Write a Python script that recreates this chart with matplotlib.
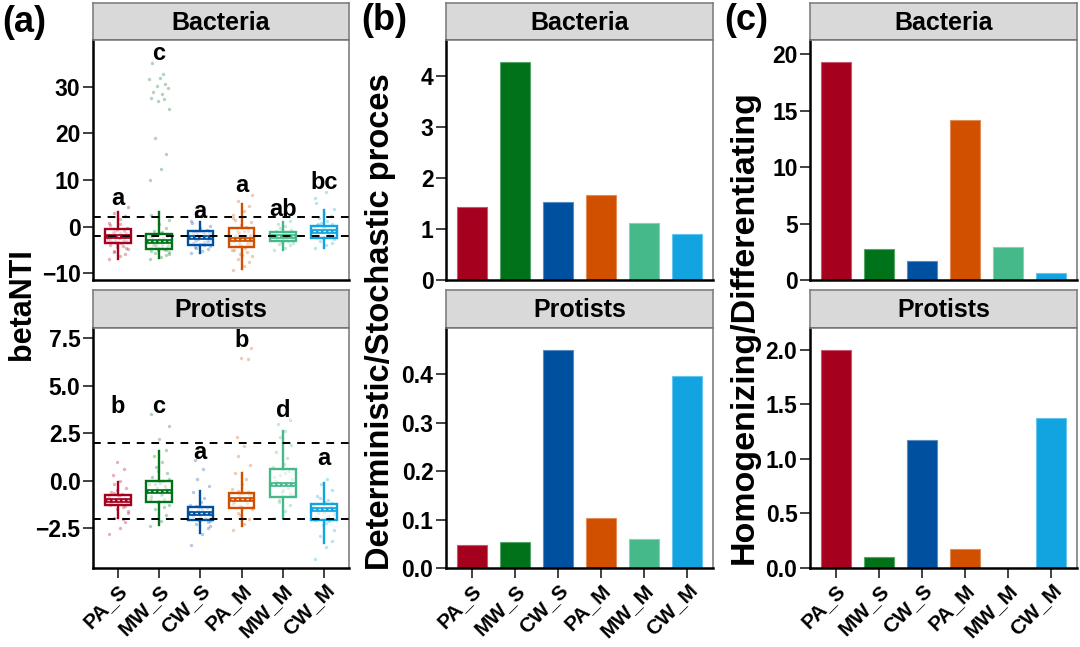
import matplotlib
matplotlib.use("Agg")
import matplotlib.pyplot as plt
import matplotlib.colors as mcolors
import numpy as np

plt.rcParams['font.family'] = ['Liberation Sans', 'DejaVu Sans']
plt.rcParams['font.weight'] = 'bold'

W, H = 1080, 647

groups = ["PA_S", "MW_S", "CW_S", "PA_M", "MW_M", "CW_M"]
colors = ["#A6001F", "#00731A", "#0050A0", "#D05000", "#45B98A", "#12A4E0"]

# ---- panel (a): betaNTI box statistics ----
bac_whislo = [-7.0, -6.7, -5.6, -9.1, -5.0, -4.5]
bac_q1 = [-3.4, -4.7, -3.8, -4.3, -3.1, -2.5]
bac_med = [-2.0, -3.15, -2.1, -2.7, -2.0, -0.92]
bac_q3 = [-0.57, -1.5, -0.85, -0.2, -1.07, 0.15]
bac_whishi = [3.2, 3.2, 1.1, 4.8, 1.07, 3.6]

pro_whislo = [-1.95, -2.35, -2.77, -2.38, -1.95, -3.26]
pro_q1 = [-1.3, -1.14, -2.07, -1.42, -0.86, -2.07]
pro_med = [-1.02, -0.54, -1.72, -0.98, -0.19, -1.51]
pro_q3 = [-0.77, 0.0, -1.4, -0.65, 0.63, -1.24]
pro_whishi = [-0.08, 1.58, -0.54, 0.39, 2.62, -0.1]

bac_points = [
    [-7.0, -6.3, -5.8, -5.2, -4.8, -4.4, -4.1, -3.8, -3.5, -3.3, -3.1, -2.9, -2.7, -2.5, -2.3,
     -2.1, -1.9, -1.7, -1.5, -1.3, -1.1, -0.9, -0.6, -0.3, 0.3, 0.9, 1.6, 2.2, 3.0, 4.2,
     -3.6, -3.0, -2.6, -2.2, -1.8, -1.4, -1.0, -0.7, -2.8, -2.4, -2.0, -3.2, -4.6, -5.5, 0.6],
    [-6.8, -6.4, -6.0, -5.6, -5.3, -5.0, -4.8, -4.5, -4.3, -4.0, -3.8, -3.5, -3.3, -3.1, -2.8,
     -2.5, -2.2, -1.9, -1.6, -1.2, -0.8, -0.3, 0.5, 1.4, 2.6, 10.0, 12.3, 15.5, 19.1, 25.2,
     26.9, 27.3, 27.6, 28.4, 28.9, 29.8, 30.2, 30.5, 31.7, 31.9, 32.7, 35.1,
     -4.4, -4.1, -3.7, -3.4, -3.0, -2.6, -5.8, -5.1, -2.0, -1.4, -4.9, -3.9],
    [-5.6, -5.2, -4.8, -4.5, -4.2, -3.9, -3.7, -3.5, -3.3, -3.1, -2.9, -2.7, -2.5, -2.3, -2.1,
     -1.9, -1.7, -1.5, -1.3, -1.1, -0.9, -0.6, -0.3, 0.2, 0.8, 1.3,
     -3.6, -3.2, -2.8, -2.4, -2.0, -1.6, -1.2, -4.0, -4.4, -0.8, -2.6, -3.0],
    [-9.2, -8.4, -7.6, -6.9, -6.3, -5.8, -5.3, -4.9, -4.5, -4.1, -3.8, -3.5, -3.2, -2.9, -2.6,
     -2.3, -2.0, -1.7, -1.4, -1.0, -0.6, -0.2, 0.4, 1.0, 1.8, 2.6, 3.4, 4.4, 5.5, 6.9,
     -4.0, -3.6, -3.0, -2.7, -2.4, -1.9, -1.2, -0.8, -5.0, -6.0, 0.0, 1.4, -3.3, -2.1],
    [-5.0, -4.5, -4.0, -3.7, -3.4, -3.2, -3.0, -2.8, -2.6, -2.4, -2.2, -2.0, -1.8, -1.6, -1.4,
     -1.2, -1.0, -0.7, -0.3, 0.2, 0.7, 1.2,
     -2.9, -2.5, -2.1, -1.9, -1.5, -1.1, -2.3, -2.7, -3.3, -1.7],
    [-4.6, -4.0, -3.5, -3.0, -2.6, -2.3, -2.0, -1.7, -1.4, -1.1, -0.9, -0.7, -0.5, -0.3, -0.1,
     0.1, 0.3, 0.6, 0.9, 1.3, 1.8, 2.4, 3.0, 3.8, 5.0, 6.2, 7.4,
     -1.2, -0.8, -0.4, 0.0, -1.6, -2.1, -0.6, 0.5, -1.9],
]
pro_points = [
    [-2.8, -2.5, -2.2, -1.95, -1.7, -1.5, -1.4, -1.3, -1.2, -1.1, -1.05, -1.0, -0.95, -0.9,
     -0.8, -0.7, -0.6, -0.4, -0.2, 0.0, 0.3, 0.6, 1.0,
     -1.25, -1.15, -0.85, -0.75, -1.35, -0.65, -1.6, -0.5, -2.0],
    [-2.4, -2.1, -1.8, -1.5, -1.3, -1.1, -0.95, -0.8, -0.7, -0.6, -0.5, -0.4, -0.3, -0.2, -0.1,
     0.0, 0.2, 0.4, 0.7, 1.0, 1.3, 1.6, 2.2, 2.9, 3.5,
     -1.0, -0.75, -0.45, -0.15, 0.1, 0.5, -1.4, -0.9, -0.55],
    [-3.4, -2.8, -2.5, -2.3, -2.15, -2.05, -1.95, -1.85, -1.78, -1.72, -1.65, -1.55, -1.45,
     -1.3, -1.1, -0.9, -0.6, -0.3, 0.1, 0.6, 1.1,
     -2.0, -1.9, -1.8, -1.7, -1.6, -1.5, -2.2, -1.35, -2.4],
    [-2.6, -2.3, -2.0, -1.7, -1.5, -1.35, -1.2, -1.1, -1.0, -0.95, -0.85, -0.75, -0.6, -0.45,
     -0.2, 0.1, 0.4, 0.8, 1.3, 1.8, 2.3, 6.4, 6.45, 7.0,
     -1.25, -1.05, -0.9, -0.7, -0.55, -1.4, -1.8],
    [-1.95, -1.6, -1.3, -1.0, -0.8, -0.6, -0.4, -0.25, -0.15, -0.05, 0.1, 0.3, 0.5, 0.7, 0.9,
     1.2, 1.5, 1.9, 2.3, 2.6, 3.0, 3.2,
     -0.5, -0.3, 0.0, 0.2, 0.4, -0.7, -1.1, 0.6],
    [-4.1, -3.5, -3.2, -2.9, -2.6, -2.35, -2.15, -2.0, -1.85, -1.7, -1.6, -1.5, -1.4, -1.3,
     -1.15, -1.0, -0.8, -0.5, -0.2, 0.1,
     -1.55, -1.45, -1.65, -1.75, -1.9, -2.05, -2.25, -1.2, -0.9],
]

bac_letters = ["a", "c", "a", "a", "ab", "bc"]
bac_letter_y = [6.1, 37.1, 3.2, 8.9, 3.6, 9.4]
pro_letters = ["b", "c", "a", "b", "d", "a"]
pro_letter_y = [3.9, 3.9, 1.47, 7.4, 3.67, 1.18]

thresholds = [-2, 2]

# ---- panel (b) and (c) bar values ----
det_sto_bac = [1.43, 4.27, 1.53, 1.67, 1.11, 0.91]
det_sto_pro = [0.048, 0.054, 0.451, 0.104, 0.060, 0.397]
hom_dif_bac = [19.32, 2.74, 1.68, 14.2, 2.91, 0.65]
hom_dif_pro = [2.0, 0.10, 1.173, 0.176, 0.0, 1.379]

jitter = [-0.22, 0.05, 0.18, -0.10, 0.24, -0.03, 0.12, -0.19, 0.08, -0.14, 0.21, -0.06,
          0.15, -0.24, 0.02, 0.10, -0.17, 0.20, -0.08, 0.06, -0.12, 0.16, -0.01, 0.23, -0.20]

fig = plt.figure(figsize=(W / 100, H / 100), dpi=100)


def rect(l, t, r, b):
    return [l / W, (H - b) / H, (r - l) / W, (b - t) / H]


def strip(l, t, r, b, label):
    s = fig.add_axes(rect(l, t, r, b))
    s.set_facecolor("#D9D9D9")
    s.set_xticks([]); s.set_yticks([])
    for sp in s.spines.values():
        sp.set_color("#7F7F7F"); sp.set_linewidth(1.2)
    s.spines['bottom'].set_color("#333333")
    s.text(0.5, 0.47, label, ha='center', va='center', fontsize=18, fontweight='bold',
           transform=s.transAxes)


def style(ax, show_x):
    for k in ['left', 'bottom']:
        ax.spines[k].set_color("black"); ax.spines[k].set_linewidth(1.8)
    for k in ['top', 'right']:
        ax.spines[k].set_color("#7F7F7F"); ax.spines[k].set_linewidth(1.2)
    ax.tick_params(axis='both', length=7, width=1.3, color='#333333', labelsize=16.5, pad=2)
    ax.set_xlim(-0.6, 5.6)
    ax.set_xticks(range(len(groups)))
    if show_x:
        ax.set_xticklabels(groups, rotation=45, ha='right', rotation_mode='anchor', fontsize=15)
        ax.tick_params(axis='x', pad=2)
    else:
        ax.tick_params(axis='x', length=0)
        ax.set_xticklabels([])
    for lb in ax.get_yticklabels():
        lb.set_fontweight('bold')


def box_panel(ax, whislo, q1, med, q3, whishi, points, letters, letter_y, ylim, yticks, ylabels):
    x = np.arange(len(groups))
    for i in range(len(groups)):
        pts = points[i]
        xs = [i + jitter[j % len(jitter)] for j in range(len(pts))]
        ax.scatter(xs, pts, s=6, color=colors[i], alpha=0.3, linewidths=0, zorder=1)
    stats = [dict(whislo=whislo[i], q1=q1[i], med=med[i], q3=q3[i], whishi=whishi[i], fliers=[])
             for i in range(len(groups))]
    for i, st in enumerate(stats):
        c = colors[i]
        ax.bxp([st], positions=[x[i]], widths=0.62, showfliers=False, patch_artist=True,
               boxprops=dict(facecolor=(1, 1, 1, 0.5), edgecolor=c, linewidth=1.7),
               whiskerprops=dict(color=c, linewidth=1.7),
               capprops=dict(linewidth=0),
               medianprops=dict(color=c, linewidth=3.4), zorder=2)
        ax.plot([x[i] - 0.26, x[i] + 0.26], [med[i], med[i]], color='white', lw=0.9,
                ls=(0, (2, 2)), alpha=0.8, zorder=3)
    for t in thresholds:
        ax.axhline(t, color='black', lw=1.4, ls=(0, (4, 3.5)), zorder=4)
    for i in range(len(groups)):
        ax.text(x[i], letter_y[i], letters[i], ha='center', va='center', fontsize=17,
                fontweight='bold', zorder=5)
    ax.set_ylim(*ylim)
    ax.set_yticks(yticks)
    ax.set_yticklabels(ylabels)


def bar_panel(ax, vals, yticks, ylabels):
    x = np.arange(len(groups))
    light = [tuple(0.65 * np.array(mcolors.to_rgb(c)) + 0.35) for c in colors]
    ax.bar(x, vals, width=0.7, color=colors, edgecolor=light, linewidth=0.8, zorder=2)
    ax.set_ylim(0, 1.1 * max(vals))
    ax.set_yticks(yticks)
    ax.set_yticklabels(ylabels)


TS, TB, PT, PB = 3, 40, 40, 280
BS, BB, QT, QB = 290, 328, 328, 568
cols = [(93, 349), (446, 713), (810, 1077)]

# panel (a)
l, r = cols[0]
strip(l, TS, r, TB, "Bacteria")
ax = fig.add_axes(rect(l, PT, r, PB))
box_panel(ax, bac_whislo, bac_q1, bac_med, bac_q3, bac_whishi, bac_points, bac_letters,
          bac_letter_y, (-11.4, 40.0), [-10, 0, 10, 20, 30], ["\u221210", "0", "10", "20", "30"])
style(ax, False)
strip(l, BS, r, BB, "Protists")
ax = fig.add_axes(rect(l, QT, r, QB))
box_panel(ax, pro_whislo, pro_q1, pro_med, pro_q3, pro_whishi, pro_points, pro_letters,
          pro_letter_y, (-4.6, 8.04), [-2.5, 0, 2.5, 5.0, 7.5],
          ["\u22122.5", "0.0", "2.5", "5.0", "7.5"])
style(ax, True)

# panel (b)
l, r = cols[1]
strip(l, TS, r, TB, "Bacteria")
ax = fig.add_axes(rect(l, PT, r, PB))
bar_panel(ax, det_sto_bac, [0, 1, 2, 3, 4], ["0", "1", "2", "3", "4"])
style(ax, False)
strip(l, BS, r, BB, "Protists")
ax = fig.add_axes(rect(l, QT, r, QB))
bar_panel(ax, det_sto_pro, [0, 0.1, 0.2, 0.3, 0.4], ["0.0", "0.1", "0.2", "0.3", "0.4"])
style(ax, True)

# panel (c)
l, r = cols[2]
strip(l, TS, r, TB, "Bacteria")
ax = fig.add_axes(rect(l, PT, r, PB))
bar_panel(ax, hom_dif_bac, [0, 5, 10, 15, 20], ["0", "5", "10", "15", "20"])
style(ax, False)
strip(l, BS, r, BB, "Protists")
ax = fig.add_axes(rect(l, QT, r, QB))
bar_panel(ax, hom_dif_pro, [0, 0.5, 1.0, 1.5, 2.0], ["0.0", "0.5", "1.0", "1.5", "2.0"])
style(ax, True)

# axis titles
fig.text(22 / W, 1 - 304 / H, "betaNTI", rotation=90, ha='center', va='center',
         fontsize=22, fontweight='bold')
fig.text(380 / W, 1 - 322 / H, "Deterministic/Stochastic proces", rotation=90, ha='center',
         va='center', fontsize=23.5, fontweight='bold')
fig.text(744 / W, 1 - 327 / H, "Homogenizing/Differentiating", rotation=90, ha='center',
         va='center', fontsize=24.5, fontweight='bold')

# panel tags
fig.text(2 / W, 1 - 22 / H, "(a)", ha='left', va='center', fontsize=26, fontweight='bold')
fig.text(361 / W, 1 - 20 / H, "(b)", ha='left', va='center', fontsize=26, fontweight='bold')
fig.text(724 / W, 1 - 20 / H, "(c)", ha='left', va='center', fontsize=26, fontweight='bold')

fig.savefig("out.png", dpi=100)
